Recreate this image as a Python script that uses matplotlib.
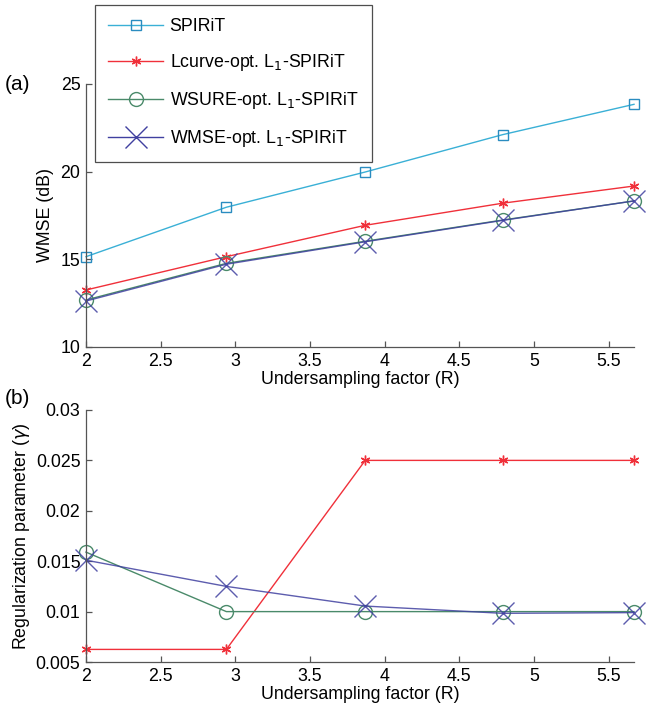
import matplotlib.pyplot as plt
from matplotlib.lines import Line2D

plt.rcParams['font.family'] = ['Liberation Sans', 'DejaVu Sans']
plt.rcParams['font.size'] = 12.8

# Undersampling factors
R = [2.0, 2.94, 3.87, 4.79, 5.67]

# (a) WMSE in dB
wmse_spirit = [15.15, 17.97, 19.98, 22.11, 23.84]
wmse_lcurve = [13.25, 15.15, 16.94, 18.20, 19.18]
wmse_wsure = [12.68, 14.77, 16.03, 17.24, 18.33]
wmse_wmse = [12.62, 14.72, 16.00, 17.22, 18.33]

# (b) regularization parameter
gam_lcurve = [0.00625, 0.00625, 0.025, 0.025, 0.025]
gam_wsure = [0.0159, 0.01, 0.01, 0.01, 0.01]
gam_wmse = [0.0151, 0.0125, 0.01055, 0.00983, 0.0099]

labels = ['SPIRiT', r'Lcurve-opt. L$_1$-SPIRiT',
          r'WSURE-opt. L$_1$-SPIRiT', r'WMSE-opt. L$_1$-SPIRiT']

c_spirit = '#3ab0d6'
c_spirit_m = '#2a8cc0'
c_red = '#f0303a'
c_green = '#4a8a6a'
c_blue = '#4040a0'
spine_c = '#555555'
fs = 12.8

fig = plt.figure(figsize=(6.49, 7.16), dpi=100)
ax1 = fig.add_axes([0.1325, 0.5154, 0.8444, 0.3673])
ax2 = fig.add_axes([0.1325, 0.0754, 0.8444, 0.352])


def style(ax):
    for s in ['top', 'right']:
        ax.spines[s].set_visible(False)
    for s in ['left', 'bottom']:
        ax.spines[s].set_color(spine_c)
        ax.spines[s].set_linewidth(0.9)
    ax.tick_params(direction='in', length=4, color=spine_c, width=0.9,
                   labelsize=fs, pad=4)
    ax.set_xlim(2, 5.67)
    ax.set_xticks([2, 2.5, 3, 3.5, 4, 4.5, 5, 5.5])
    ax.set_xticklabels(['2', '2.5', '3', '3.5', '4', '4.5', '5', '5.5'])
    ax.set_xlabel('Undersampling factor (R)', labelpad=1)


# (a)
ax1.plot(R, wmse_spirit, '-', color=c_spirit, lw=1, marker='s', ms=7,
         mfc='none', mec=c_spirit_m, mew=1, clip_on=False)
ax1.plot(R, wmse_lcurve, '-', color=c_red, lw=1, marker=(6, 2, 0), ms=7,
         mec=c_red, mew=1, clip_on=False)
ax1.plot(R, wmse_wsure, '-', color=c_green, lw=1, marker='o', ms=10,
         mfc='none', mec=c_green, mew=1, clip_on=False)
ax1.plot(R, wmse_wmse, '-', color=c_blue, lw=1, marker='x', ms=16,
         mec=c_blue, mew=1, clip_on=False, alpha=0.85)
style(ax1)
ax1.set_ylim(10, 25)
ax1.set_yticks([10, 15, 20, 25])
ax1.set_ylabel('WMSE (dB)', labelpad=5)
fig.text(0.008, 1 - 84 / 716, '(a)', fontsize=15, va='center', ha='left')

# (b)
ax2.plot(R, gam_lcurve, '-', color=c_red, lw=1, marker=(6, 2, 0), ms=7,
         mec=c_red, mew=1, clip_on=False)
ax2.plot(R, gam_wsure, '-', color=c_green, lw=1, marker='o', ms=10,
         mfc='none', mec=c_green, mew=1, clip_on=False)
ax2.plot(R, gam_wmse, '-', color=c_blue, lw=1, marker='x', ms=16,
         mec=c_blue, mew=1, clip_on=False, alpha=0.85)
style(ax2)
ax2.set_ylim(0.005, 0.03)
ax2.set_yticks([0.005, 0.01, 0.015, 0.02, 0.025, 0.03])
ax2.set_yticklabels(['0.005', '0.01', '0.015', '0.02', '0.025', '0.03'])
ax2.set_ylabel(r'Regularization parameter ($\gamma$)', labelpad=3)
fig.text(0.008, 1 - 398 / 716, '(b)', fontsize=15, va='center', ha='left')

# legend placed above the top axes, like the original
handles = [
    Line2D([], [], color=c_spirit, lw=1, marker='s', ms=7, mfc='none',
           mec=c_spirit_m),
    Line2D([], [], color=c_red, lw=1, marker=(6, 2, 0), ms=7, mec=c_red),
    Line2D([], [], color=c_green, lw=1, marker='o', ms=10, mfc='none',
           mec=c_green),
    Line2D([], [], color=c_blue, lw=1, marker='x', ms=16, mec=c_blue),
]
leg = fig.legend(handles, labels, loc='upper left',
                 bbox_to_anchor=(95 / 649, 1 - 5 / 716),
                 fontsize=fs, frameon=True, fancybox=False,
                 handlelength=3.1, handletextpad=0.35, labelspacing=0.95,
                 borderpad=0.75, borderaxespad=0)
leg.get_frame().set_edgecolor('#222222')
leg.get_frame().set_linewidth(0.9)

fig.savefig('out.png', dpi=100)
